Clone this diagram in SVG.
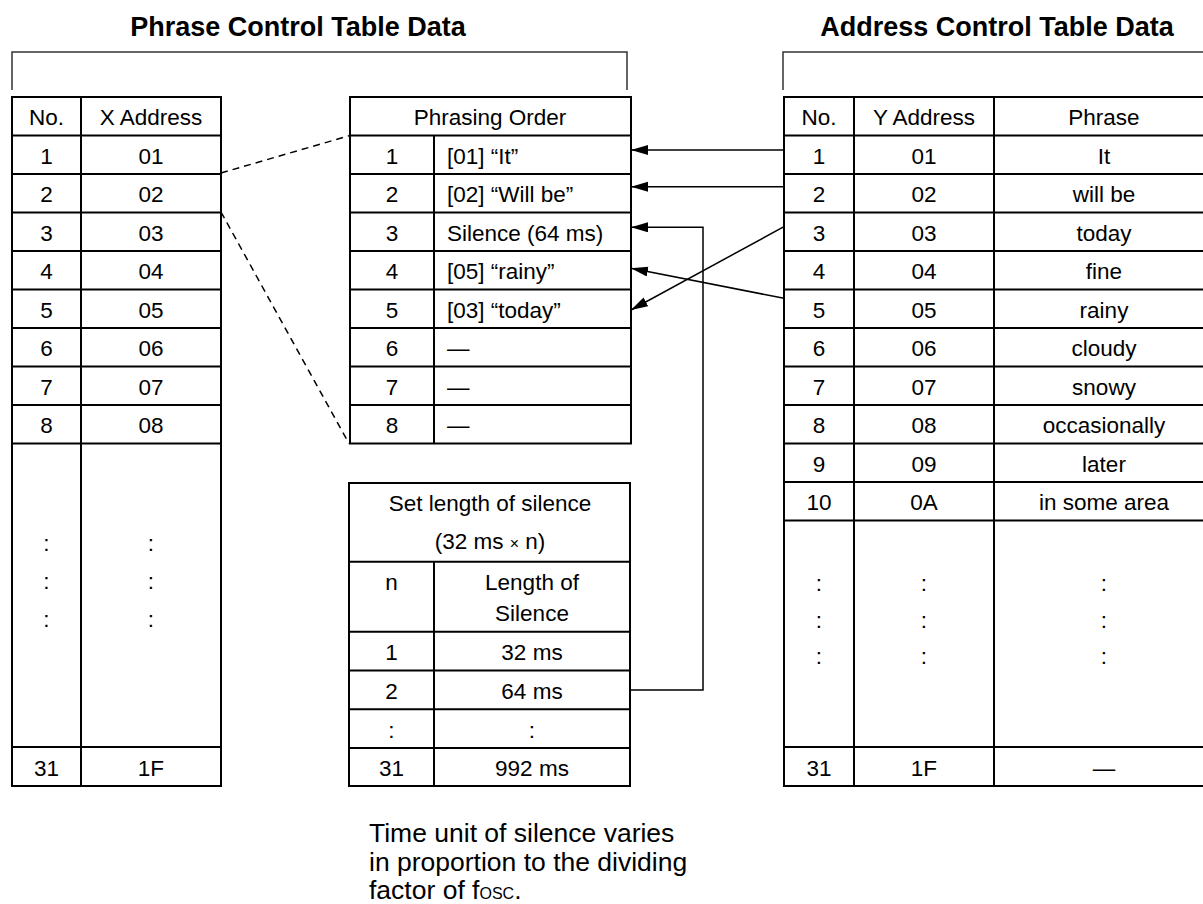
<svg xmlns="http://www.w3.org/2000/svg" width="1203" height="904" viewBox="0 0 1203 904">
  <style>
    text { font-family: "Liberation Sans", Arial, sans-serif; font-size: 22.5px; fill: #000; }
    .c { text-anchor: middle; }
    .title { font-weight: bold; font-size: 27px; text-anchor: middle; }
    .note { font-size: 26.5px; }
    .grid { fill: none; stroke: #000; stroke-width: 2; }
    .bracket { fill: none; stroke: #333; stroke-width: 1.5; }
    .link { fill: none; stroke: #000; stroke-width: 1.5; }
    .dash { fill: none; stroke: #000; stroke-width: 1.5; stroke-dasharray: 7 5; }
  </style>
  <defs>
    <marker id="head" markerUnits="userSpaceOnUse" markerWidth="18" markerHeight="11" refX="17" refY="5" orient="auto">
      <path d="M0,0 L17,5 L0,10 z" fill="#000"/>
    </marker>
  </defs>
  <rect width="1203" height="904" fill="#fff"/>

  <!-- group titles and brackets -->
  <g id="phrase-control-title">
    <text class="title" x="298" y="36">Phrase Control Table Data</text>
    <path class="bracket" d="M12,90 V52 H627 V90"/>
  </g>
  <g id="address-control-title">
    <text class="title" x="997" y="36">Address Control Table Data</text>
    <path class="bracket" d="M783,90 V52 H1212"/>
  </g>

  <!-- X address table -->
  <g id="x-address-table">
    <path class="grid" d="M12,97 H221 V786 H12 Z M81,97 V786
      M12,135.5 H221 M12,174 H221 M12,212.5 H221 M12,251 H221 M12,289.5 H221
      M12,328 H221 M12,366.5 H221 M12,405 H221 M12,443.5 H221 M12,747 H221"/>
    <text class="c" x="46.5" y="125">No.</text>
    <text class="c" x="151" y="125">X Address</text>
    <text class="c" x="46.5" y="163.5">1</text><text class="c" x="151" y="163.5">01</text>
    <text class="c" x="46.5" y="202">2</text><text class="c" x="151" y="202">02</text>
    <text class="c" x="46.5" y="240.5">3</text><text class="c" x="151" y="240.5">03</text>
    <text class="c" x="46.5" y="279">4</text><text class="c" x="151" y="279">04</text>
    <text class="c" x="46.5" y="317.5">5</text><text class="c" x="151" y="317.5">05</text>
    <text class="c" x="46.5" y="356">6</text><text class="c" x="151" y="356">06</text>
    <text class="c" x="46.5" y="394.5">7</text><text class="c" x="151" y="394.5">07</text>
    <text class="c" x="46.5" y="433">8</text><text class="c" x="151" y="433">08</text>
    <text class="c" x="46.5" y="551">:</text><text class="c" x="151" y="551">:</text>
    <text class="c" x="46.5" y="589">:</text><text class="c" x="151" y="589">:</text>
    <text class="c" x="46.5" y="627">:</text><text class="c" x="151" y="627">:</text>
    <text class="c" x="46.5" y="775.5">31</text><text class="c" x="151" y="775.5">1F</text>
  </g>

  <!-- phrasing order table -->
  <g id="phrasing-order-table">
    <path class="grid" d="M350,97 H631 V443.5 H350 Z M434,135.5 V443.5
      M350,135.5 H631 M350,174 H631 M350,212.5 H631 M350,251 H631 M350,289.5 H631
      M350,328 H631 M350,366.5 H631 M350,405 H631"/>
    <text class="c" x="490" y="125">Phrasing Order</text>
    <text class="c" x="392" y="163.5">1</text><text x="447" y="163.5">[01] “It”</text>
    <text class="c" x="392" y="202">2</text><text x="447" y="202">[02] “Will be”</text>
    <text class="c" x="392" y="240.5">3</text><text x="447" y="240.5">Silence (64 ms)</text>
    <text class="c" x="392" y="279">4</text><text x="447" y="279">[05] “rainy”</text>
    <text class="c" x="392" y="317.5">5</text><text x="447" y="317.5">[03] “today”</text>
    <text class="c" x="392" y="356">6</text><text x="447" y="356">—</text>
    <text class="c" x="392" y="394.5">7</text><text x="447" y="394.5">—</text>
    <text class="c" x="392" y="433">8</text><text x="447" y="433">—</text>
  </g>

  <!-- silence length table -->
  <g id="silence-table">
    <path class="grid" d="M349,483 H630 V786 H349 Z M434,561.7 V786
      M349,561.7 H630 M349,631.7 H630 M349,670.5 H630 M349,709.3 H630 M349,748 H630"/>
    <text class="c" x="490" y="511">Set length of silence</text>
    <text class="c" x="490" y="549">(32 ms <tspan font-size="16">×</tspan> n)</text>
    <text class="c" x="391.5" y="590">n</text>
    <text class="c" x="532" y="590">Length of</text>
    <text class="c" x="532" y="621">Silence</text>
    <text class="c" x="391.5" y="660">1</text><text class="c" x="532" y="660">32 ms</text>
    <text class="c" x="391.5" y="699">2</text><text class="c" x="532" y="699">64 ms</text>
    <text class="c" x="391.5" y="737.5">:</text><text class="c" x="532" y="737.5">:</text>
    <text class="c" x="391.5" y="776">31</text><text class="c" x="532" y="776">992 ms</text>
  </g>

  <!-- Y address / phrase table -->
  <g id="y-address-table">
    <path class="grid" d="M784,97 H1213 V786 H784 Z M854,97 V786 M994,97 V786
      M784,135.5 H1213 M784,174 H1213 M784,212.5 H1213 M784,251 H1213 M784,289.5 H1213
      M784,328 H1213 M784,366.5 H1213 M784,405 H1213 M784,443.5 H1213 M784,482 H1213
      M784,520.5 H1213 M784,747 H1213"/>
    <text class="c" x="819" y="125">No.</text>
    <text class="c" x="924" y="125">Y Address</text>
    <text class="c" x="1104" y="125">Phrase</text>
    <text class="c" x="819" y="163.5">1</text><text class="c" x="924" y="163.5">01</text><text class="c" x="1104" y="163.5">It</text>
    <text class="c" x="819" y="202">2</text><text class="c" x="924" y="202">02</text><text class="c" x="1104" y="202">will be</text>
    <text class="c" x="819" y="240.5">3</text><text class="c" x="924" y="240.5">03</text><text class="c" x="1104" y="240.5">today</text>
    <text class="c" x="819" y="279">4</text><text class="c" x="924" y="279">04</text><text class="c" x="1104" y="279">fine</text>
    <text class="c" x="819" y="317.5">5</text><text class="c" x="924" y="317.5">05</text><text class="c" x="1104" y="317.5">rainy</text>
    <text class="c" x="819" y="356">6</text><text class="c" x="924" y="356">06</text><text class="c" x="1104" y="356">cloudy</text>
    <text class="c" x="819" y="394.5">7</text><text class="c" x="924" y="394.5">07</text><text class="c" x="1104" y="394.5">snowy</text>
    <text class="c" x="819" y="433">8</text><text class="c" x="924" y="433">08</text><text class="c" x="1104" y="433">occasionally</text>
    <text class="c" x="819" y="471.5">9</text><text class="c" x="924" y="471.5">09</text><text class="c" x="1104" y="471.5">later</text>
    <text class="c" x="819" y="510">10</text><text class="c" x="924" y="510">0A</text><text class="c" x="1104" y="510">in some area</text>
    <text class="c" x="819" y="591">:</text><text class="c" x="924" y="591">:</text><text class="c" x="1104" y="591">:</text>
    <text class="c" x="819" y="628">:</text><text class="c" x="924" y="628">:</text><text class="c" x="1104" y="628">:</text>
    <text class="c" x="819" y="664">:</text><text class="c" x="924" y="664">:</text><text class="c" x="1104" y="664">:</text>
    <text class="c" x="819" y="775.5">31</text><text class="c" x="924" y="775.5">1F</text><text class="c" x="1104" y="775.5">—</text>
  </g>

  <!-- connectors -->
  <g id="connectors">
    <path class="dash" d="M221,173 L350,135.5"/>
    <path class="dash" d="M221,212 L349,443.5"/>
    <path class="link" d="M784,150 H631" marker-end="url(#head)"/>
    <path class="link" d="M784,186.7 H631" marker-end="url(#head)"/>
    <path class="link" d="M630,690 H703 V227.3 H631" marker-end="url(#head)"/>
    <path class="link" d="M784,298.3 L631,268.3" marker-end="url(#head)"/>
    <path class="link" d="M784,226.7 L631,310" marker-end="url(#head)"/>
  </g>

  <!-- footnote -->
  <g id="note">
    <text class="note" x="369" y="842">Time unit of silence varies</text>
    <text class="note" x="369" y="870.5">in proportion to the dividing</text>
    <text class="note" x="369" y="899">factor of f<tspan font-size="16">OSC</tspan>.</text>
  </g>
</svg>
